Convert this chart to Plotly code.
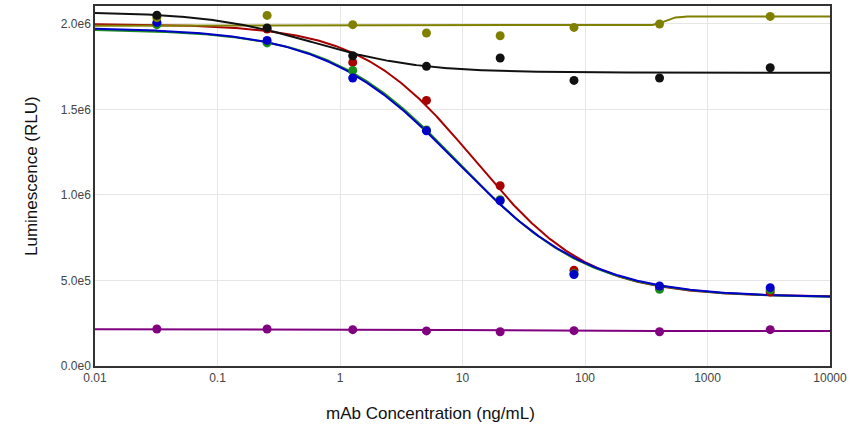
import numpy as np
import plotly.graph_objects as go

# Concentrations (ng/mL)
conc = [0.032, 0.254, 1.27, 5.08, 20.3, 81.3, 406, 3250]

# Measured luminescence (RLU) per sample
red_pts = [2.000e6, 1.970e6, 1.775e6, 1.553e6, 1.054e6, 0.560e6, 0.455e6, 0.433e6]
green_pts = [1.996e6, 1.889e6, 1.728e6, 1.380e6, 0.972e6, 0.540e6, 0.449e6, 0.445e6]
blue_pts = [2.009e6, 1.904e6, 1.684e6, 1.375e6, 0.966e6, 0.535e6, 0.468e6, 0.458e6]
olive_pts = [2.037e6, 2.050e6, 1.996e6, 1.947e6, 1.931e6, 1.980e6, 2.000e6, 2.044e6]
purple_pts = [0.2166e6, 0.2166e6, 0.2125e6, 0.205e6, 0.200e6, 0.2066e6, 0.200e6, 0.2125e6]
black_pts = [2.051e6, 1.977e6, 1.814e6, 1.752e6, 1.801e6, 1.670e6, 1.684e6, 1.744e6]

# Fitted 4PL parameters (low-conc plateau, high-conc plateau, EC50, Hill slope)
red_fit = [2.000e6, 0.405e6, 12.6, 0.93]
green_fit = [1.970e6, 0.400e6, 9.4, 0.82]
blue_fit = [1.978e6, 0.400e6, 9.1, 0.80]
olive_fit = [1.990e6, 2.044e6, 450.0, 10.0]
purple_fit = [0.215e6, 0.205e6, 10.0, 1.0]
black_fit = [2.070e6, 1.715e6, 0.6, 1.0]

y_tickvals = [0, 5e5, 1e6, 1.5e6, 2e6]
y_ticktext = ["0.0e0", "5.0e5", "1.0e6", "1.5e6", "2.0e6"]
x_tickvals = [0.01, 0.1, 1, 10, 100, 1000, 10000]
x_ticktext = ["0.01", "0.1", "1", "10", "100", "1000", "10000"]
x_title = "mAb Concentration (ng/mL)"
y_title = "Luminescence (RLU)"

series = [
    (red_pts, red_fit, "#a80000"),
    (green_pts, green_fit, "#1a8c1a"),
    (blue_pts, blue_fit, "#0000c8"),
    (olive_pts, olive_fit, "#808000"),
    (purple_pts, purple_fit, "#800080"),
    (black_pts, black_fit, "#111111"),
]

xs = np.logspace(-2, 4, 600)


def fourpl(x, p):
    a, d, c, b = p
    return d + (a - d) / (1.0 + (x / c) ** b)


fig = go.Figure()
for pts, fit, col in series:
    fig.add_trace(go.Scatter(x=xs, y=fourpl(xs, fit), mode="lines",
                             line=dict(color=col, width=2), showlegend=False,
                             hoverinfo="skip"))
for pts, fit, col in series:
    fig.add_trace(go.Scatter(x=conc, y=pts, mode="markers",
                             marker=dict(color=col, size=9), showlegend=False))

axis_font = dict(family="Liberation Sans, Arial, sans-serif", size=12, color="#444")
title_font = dict(family="Liberation Sans, Arial, sans-serif", size=17, color="#111")
fig.update_layout(
    width=851, height=430,
    margin=dict(l=95, r=21, t=6, b=64, autoexpand=False),
    paper_bgcolor="white", plot_bgcolor="white",
    font=dict(family="Liberation Sans, Arial, sans-serif"),
    xaxis=dict(type="log", range=[-2, 4], tickvals=x_tickvals, ticktext=x_ticktext,
               showgrid=True, gridcolor="#e6e6e6", gridwidth=1,
               showline=True, linecolor="#333", linewidth=1.5, mirror=True,
               ticks="", tickfont=axis_font, zeroline=False, automargin=False),
    yaxis=dict(range=[0, 2.105e6], tickvals=y_tickvals, ticktext=y_ticktext,
               showgrid=True, gridcolor="#e6e6e6", gridwidth=1,
               showline=True, linecolor="#333", linewidth=1.5, mirror=True,
               ticks="", tickfont=axis_font, zeroline=False, automargin=False),
    annotations=[
        dict(text=x_title, xref="paper", yref="paper", x=(430 - 95) / 735,
             y=-(413 - 366) / 360, xanchor="center", yanchor="middle",
             showarrow=False, font=title_font),
        dict(text=y_title, xref="paper", yref="paper", x=-(95 - 31) / 735,
             y=(366 - 176) / 360, xanchor="center", yanchor="middle",
             textangle=-90, showarrow=False, font=title_font),
    ],
)

fig.write_html("out.html")
